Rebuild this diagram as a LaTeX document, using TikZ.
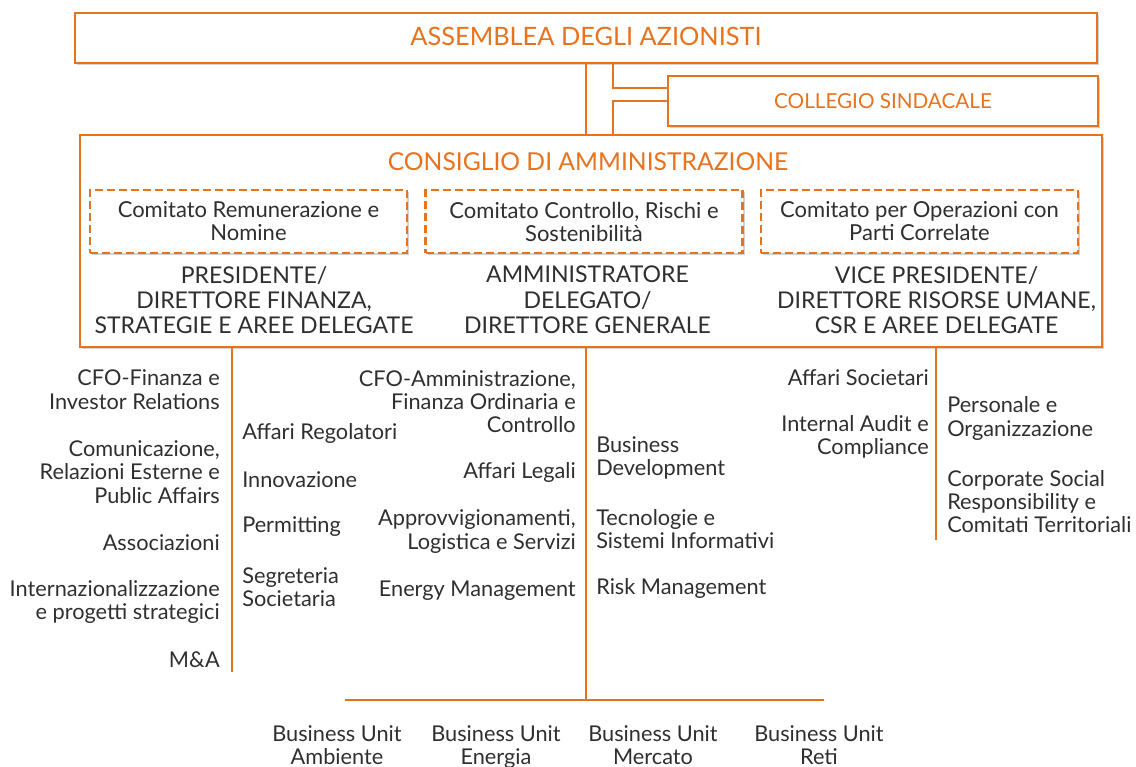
\documentclass[tikz,border=0pt]{standalone}
\usepackage{fontspec}
\setmainfont{Lato}
\usetikzlibrary{positioning, shadows}
\definecolor{arancio}{HTML}{E8731E}
\definecolor{testo}{HTML}{2F2F2F}

\begin{document}
\begin{tikzpicture}[x=0.75pt, y=-0.75pt,
  ombra/.style={drop shadow={shadow xshift=1.6pt, shadow yshift=-1.6pt, opacity=0.35, fill=gray}},
  organo/.style={draw=arancio, line width=2pt, fill=white, ombra, minimum height=37.5pt,
    text=arancio, font=\fontsize{19}{22}\selectfont},
  comitato/.style={draw=arancio, line width=2pt, dashed, dash pattern=on 6pt off 3pt, fill=white, ombra,
    minimum width=237.75pt, minimum height=47.25pt, align=center, text=testo,
    font=\fontsize{16.5}{17.25}\selectfont},
  ruolo/.style={align=center, text=testo, inner sep=0pt, font=\fontsize{17.3}{19}\selectfont},
  funzsx/.style={anchor=east, align=right, text=testo, inner sep=0pt, font=\fontsize{16.3}{17.5}\selectfont},
  funzdx/.style={anchor=west, align=left, text=testo, inner sep=0pt, font=\fontsize{16.3}{17.5}\selectfont},
  unita/.style={anchor=north, align=center, text=testo, inner sep=0pt, text depth=4pt,
    font=\fontsize{16.3}{17.5}\selectfont},
  linea/.style={draw=arancio, line width=2pt}]
\useasboundingbox (0,0) rectangle (1136,767);
% Organi societari
\node[organo, minimum width=766.5pt] (assemblea) at (586,38) {};
\node[text=arancio, font=\fontsize{19}{22}\selectfont] (assembleatesto) at (586,36) {ASSEMBLEA DEGLI AZIONISTI};
\node[organo, minimum width=322.5pt, font=\fontsize{15.5}{18}\selectfont] (collegio) at (883,101) {COLLEGIO SINDACALE};
\node[organo, minimum width=766.5pt, minimum height=159pt] (consiglio) at (591,241) {};
\node[text=arancio, font=\fontsize{18.5}{22}\selectfont] (consigliotesto) at (588,162) {CONSIGLIO DI AMMINISTRAZIONE};
% Comitati
\node[comitato] (remunerazione) at (248.5,221.5) {Comitato Remunerazione e\\Nomine};
\node[comitato] (controllo) at (584,221.5) {Comitato Controllo, Rischi e\\Sostenibilità};
\node[comitato] (parti) at (919.5,221.5) {Comitato per Operazioni con\\Parti Correlate};
% Ruoli
\node[ruolo] (presidente) at (254,300) {PRESIDENTE/\\DIRETTORE FINANZA,\\STRATEGIE E AREE DELEGATE};
\node[ruolo] (ad) at (587.5,300) {AMMINISTRATORE\\DELEGATO/\\DIRETTORE GENERALE};
\node[ruolo] (vice) at (936.5,300) {VICE PRESIDENTE/\\DIRETTORE RISORSE UMANE,\\CSR E AREE DELEGATE};
% Collegamenti fra gli organi
\coordinate (snodo1) at (613,88);
\coordinate (snodo2) at (613,101);
\draw[linea] (assemblea.south) -- (assemblea.south |- consiglio.north);
\draw[linea] (assemblea.south -| snodo1) |- (collegio.west |- snodo1);
\draw[linea] (collegio.west |- snodo2) -| (consiglio.north -| snodo2);
% Linee delle funzioni
\coordinate (finepres) at (232,672);
\coordinate (finead) at (586,700);
\coordinate (finevice) at (936,540);
\coordinate (businizio) at (345,700);
\coordinate (busfine) at (824,700);
\draw[linea] (consiglio.south -| finepres) -- (finepres);
\draw[linea] (consiglio.south -| finead) -- (finead);
\draw[linea] (consiglio.south -| finevice) -- (finevice);
\draw[linea] (businizio) -- (busfine);
% Funzioni del Presidente
\node[funzsx] (cfofin) at (220,389.5) {CFO-Finanza e\\Investor Relations};
\node[funzsx] (comunicazione) at (220,472) {Comunicazione,\\Relazioni Esterne e\\Public Affairs};
\node[funzsx] (associazioni) at (220,543) {Associazioni};
\node[funzsx] (internaz) at (220,602) {Internazionalizzazione\\e progetti strategici};
\node[funzsx] (ma) at (220,660) {M\&A};
\node[funzdx] (regolatori) at (242,433) {Affari Regolatori};
\node[funzdx] (innovazione) at (242,480) {Innovazione};
\node[funzdx] (permitting) at (242,527) {Permitting};
\node[funzdx] (segreteria) at (242,587) {Segreteria\\Societaria};
% Funzioni dell'Amministratore Delegato
\node[funzsx] (cfoamm) at (576,401.5) {CFO-Amministrazione,\\Finanza Ordinaria e\\Controllo};
\node[funzsx] (legali) at (576,472) {Affari Legali};
\node[funzsx] (approvv) at (576,531.5) {Approvvigionamenti,\\Logistica e Servizi};
\node[funzsx] (energy) at (576,591) {Energy Management};
\node[funzdx] (busdev) at (596,458) {Business\\Development};
\node[funzdx] (tecnologie) at (596,529) {Tecnologie e\\Sistemi Informativi};
\node[funzdx] (risk) at (596,588) {Risk Management};
% Funzioni del Vice Presidente
\node[funzsx] (societari) at (929,378) {Affari Societari};
\node[funzsx] (audit) at (929,437) {Internal Audit e\\Compliance};
\node[funzdx] (personale) at (947,418.5) {Personale e\\Organizzazione};
\node[funzdx] (csr) at (947,501.5) {Corporate Social\\Responsibility e\\Comitati Territoriali};
% Business Unit
\foreach \x/\nome/\etich in {337/ambiente/Ambiente, 496/energia/Energia, 653/mercato/Mercato, 819/reti/Reti}
  \node[unita] (bu-\nome) at (\x,725) {Business Unit\\\etich};
\end{tikzpicture}
\end{document}
